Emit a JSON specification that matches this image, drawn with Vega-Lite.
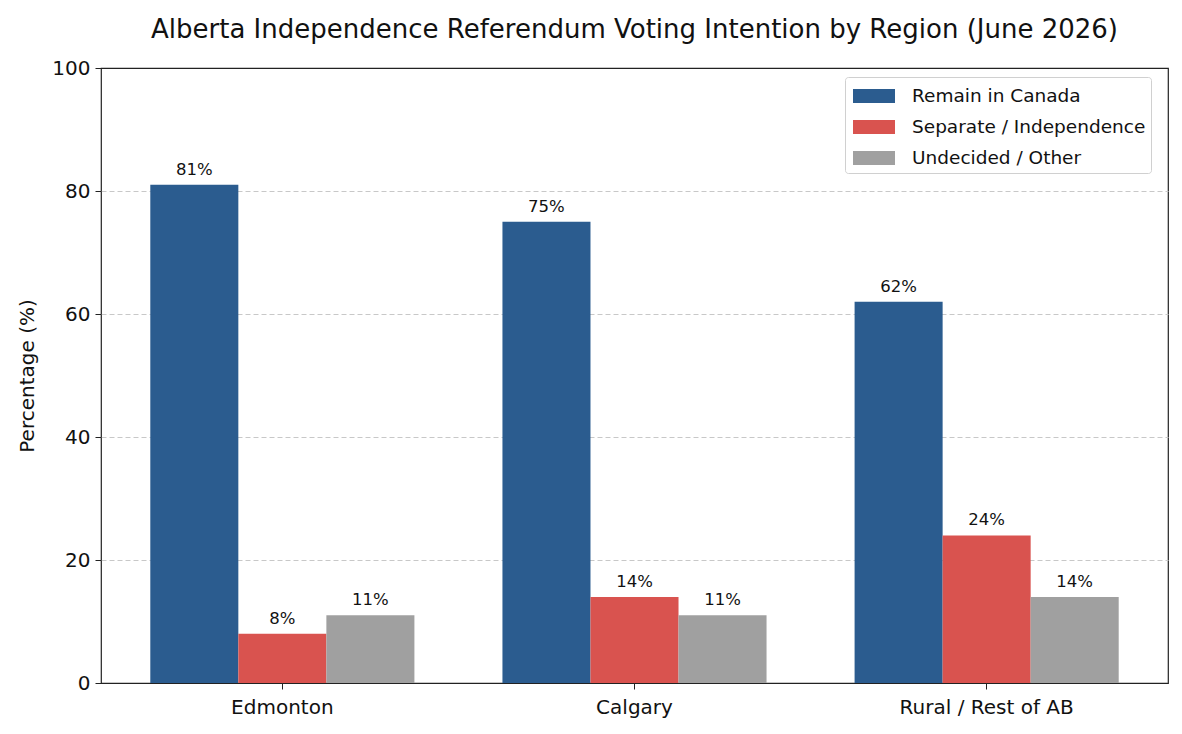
{
  "$schema": "https://vega.github.io/schema/vega-lite/v6.json",
  "width": 1067,
  "height": 615,
  "autosize": {"type": "none"},
  "padding": {"left": 101, "top": 68, "right": 14, "bottom": 51},
  "background": "white",
  "title": {
    "text": "Alberta Independence Referendum Voting Intention by Region (June 2026)",
    "fontSize": 26,
    "font": "DejaVu Sans",
    "fontWeight": "normal",
    "color": "#111",
    "offset": 15,
    "anchor": "middle"
  },
  "config": {
    "view": {"stroke": "#222", "strokeWidth": 1.2},
    "font": "DejaVu Sans"
  },
  "data": {
    "values": [
      {"region": "Edmonton", "group": "Remain in Canada", "pct": 81},
      {"region": "Edmonton", "group": "Separate / Independence", "pct": 8},
      {"region": "Edmonton", "group": "Undecided / Other", "pct": 11},
      {"region": "Calgary", "group": "Remain in Canada", "pct": 75},
      {"region": "Calgary", "group": "Separate / Independence", "pct": 14},
      {"region": "Calgary", "group": "Undecided / Other", "pct": 11},
      {"region": "Rural / Rest of AB", "group": "Remain in Canada", "pct": 62},
      {"region": "Rural / Rest of AB", "group": "Separate / Independence", "pct": 24},
      {"region": "Rural / Rest of AB", "group": "Undecided / Other", "pct": 14}
    ]
  },
  "encoding": {
    "x": {
      "field": "region",
      "type": "nominal",
      "sort": ["Edmonton", "Calgary", "Rural / Rest of AB"],
      "scale": {"paddingInner": 0.25, "paddingOuter": 0.14},
      "axis": {
        "title": null,
        "labelAngle": 0,
        "labelFontSize": 20,
        "labelColor": "#111",
        "labelPadding": 8,
        "domain": false,
        "tickColor": "#222",
        "tickSize": 6
      }
    },
    "xOffset": {
      "field": "group",
      "type": "nominal",
      "sort": ["Remain in Canada", "Separate / Independence", "Undecided / Other"],
      "scale": {"paddingInner": 0, "paddingOuter": 0}
    },
    "y": {
      "field": "pct",
      "type": "quantitative",
      "scale": {"domain": [0, 100], "nice": false},
      "axis": {
        "title": "Percentage (%)",
        "titleFontSize": 20,
        "titleFontWeight": "normal",
        "titleColor": "#111",
        "titlePadding": 14,
        "values": [0, 20, 40, 60, 80, 100],
        "labelFontSize": 20,
        "labelColor": "#111",
        "labelPadding": 5,
        "domain": false,
        "tickColor": "#222",
        "tickSize": 6,
        "grid": true,
        "gridColor": "#c8c8c8",
        "gridDash": [5, 3],
        "gridWidth": 1,
        "gridOpacity": {"condition": {"test": "datum.value == 0 || datum.value == 100", "value": 0}, "value": 1}
      }
    }
  },
  "layer": [
    {
      "mark": {"type": "bar"},
      "encoding": {
        "color": {
          "field": "group",
          "type": "nominal",
          "sort": ["Remain in Canada", "Separate / Independence", "Undecided / Other"],
          "scale": {
            "domain": ["Remain in Canada", "Separate / Independence", "Undecided / Other"],
            "range": ["#2b5c8f", "#d9534f", "#a0a0a0"]
          },
          "legend": {
            "title": null,
            "orient": "none",
            "legendX": 744,
            "legendY": 9,
            "labelFontSize": 18.5,
            "labelColor": "#111",
            "labelLimit": 0,
            "symbolType": "M-1.5,-0.5H1.5V0.5H-1.5Z",
            "symbolSize": 784,
            "symbolStrokeWidth": 0,
            "symbolOpacity": 1,
            "symbolOffset": 10,
            "rowPadding": 7,
            "labelOffset": 24,
            "padding": 5,
            "fillColor": "white",
            "strokeColor": "#d0d0d0",
            "cornerRadius": 3
          }
        }
      }
    },
    {
      "transform": [{"calculate": "datum.pct + '%'", "as": "lbl"}],
      "mark": {"type": "text", "baseline": "bottom", "dy": -7, "fontSize": 16.5, "color": "#111"},
      "encoding": {
        "text": {"field": "lbl", "type": "nominal"},
        "detail": {"field": "group"}
      }
    }
  ]
}
